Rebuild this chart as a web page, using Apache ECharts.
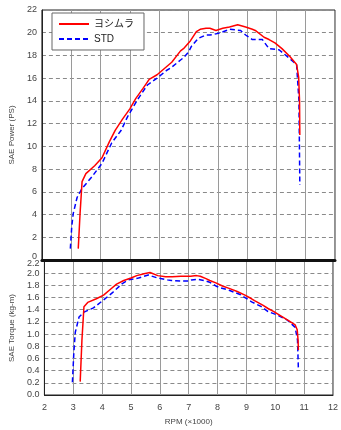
<!DOCTYPE html>
<html>
<head>
<meta charset="utf-8">
<script src="https://cdn.jsdelivr.net/npm/echarts@6/dist/echarts.min.js"></script>
<style>
  html, body { margin: 0; padding: 0; background: #fff; }
  #chart { width: 341px; height: 430px; }
</style>
</head>
<body>
<div id="chart"></div>
<script>
// Dyno run: engine speed (x1000 rpm), SAE power (PS) and SAE torque (kg-m)
const seriesNames = ['ヨシムラ', 'STD'];

const yoshiRpm    = [3.24, 3.30, 3.37, 3.50, 3.80, 4.05, 4.30, 4.50, 4.75, 5.00, 5.20, 5.45, 5.66, 5.93, 6.20, 6.43, 6.73, 6.83, 7.07, 7.27, 7.40, 7.60, 7.73, 7.94, 8.17, 8.40, 8.68, 8.95, 9.18, 9.28, 9.58, 9.75, 9.95, 10.19, 10.46, 10.69, 10.76, 10.79, 10.80];
const yoshiPower  = [1.0, 4.0, 6.9, 7.6, 8.3, 9.0, 10.4, 11.4, 12.4, 13.3, 14.2, 15.1, 15.9, 16.3, 16.9, 17.4, 18.4, 18.6, 19.3, 20.1, 20.3, 20.4, 20.4, 20.2, 20.4, 20.5, 20.7, 20.5, 20.3, 20.2, 19.6, 19.4, 19.1, 18.6, 17.9, 17.2, 16.1, 14.0, 11.0];
const yoshiTorque = [0.22, 0.90, 1.45, 1.52, 1.58, 1.64, 1.74, 1.82, 1.88, 1.92, 1.96, 1.99, 2.01, 1.96, 1.94, 1.94, 1.95, 1.95, 1.95, 1.96, 1.95, 1.91, 1.88, 1.84, 1.79, 1.75, 1.70, 1.64, 1.58, 1.55, 1.47, 1.42, 1.37, 1.30, 1.22, 1.15, 1.07, 0.90, 0.74];

const stdRpm    = [2.97, 3.02, 3.07, 3.20, 3.37, 3.70, 4.05, 4.38, 4.70, 4.92, 5.26, 5.60, 5.93, 6.26, 6.40, 6.73, 6.83, 7.00, 7.10, 7.33, 7.60, 7.73, 7.94, 8.10, 8.40, 8.78, 8.95, 9.18, 9.52, 9.75, 10.09, 10.42, 10.69, 10.77, 10.80];
const stdPower  = [1.0, 3.0, 4.1, 5.5, 6.3, 7.3, 8.5, 10.3, 11.4, 12.6, 14.1, 15.4, 16.0, 16.7, 16.9, 17.6, 17.8, 18.3, 18.8, 19.5, 19.8, 19.8, 19.9, 20.0, 20.3, 20.2, 19.8, 19.4, 19.4, 18.6, 18.5, 17.8, 17.2, 14.0, 6.6];
const stdTorque = [0.21, 0.70, 1.03, 1.28, 1.36, 1.43, 1.56, 1.69, 1.83, 1.89, 1.92, 1.97, 1.92, 1.89, 1.88, 1.87, 1.87, 1.87, 1.89, 1.90, 1.87, 1.85, 1.79, 1.76, 1.72, 1.65, 1.60, 1.53, 1.45, 1.37, 1.31, 1.23, 1.11, 0.90, 0.44];

const rpmTicks = { min: 2, max: 12, interval: 1 };
const powerTicks = { min: 0, max: 22, interval: 2 };
const torqueTicks = { min: 0, max: 2.2, interval: 0.2 };

const pairs = (xs, ys) => xs.map((x, i) => [x, ys[i]]);

const labelFont = { color: '#444', fontSize: 9, fontFamily: 'Liberation Sans, Arial, sans-serif' };
const nameFont = { color: '#444', fontSize: 8, fontFamily: 'Liberation Sans, Arial, sans-serif' };
const hLines = { show: true, lineStyle: { color: '#8a8a8a', type: [4, 3], width: 1 } };
const vLines = { show: true, lineStyle: { color: '#9a9a9a', type: 'solid', width: 1 } };

const redLine = { color: '#ff0000', width: 1.5, type: 'solid' };
const blueLine = { color: '#0000ff', width: 1.5, type: [5, 3] };

const chart = echarts.init(document.getElementById('chart'), null, { renderer: 'canvas' });
chart.setOption({
  backgroundColor: '#fff',
  animation: false,
  grid: [
    { left: 36, top: 10, width: 299, height: 250, show: true, borderColor: '#222', borderWidth: 1, backgroundColor: 'transparent' },
    { left: 36, top: 261, width: 299, height: 134, show: true, borderColor: '#222', borderWidth: 1, backgroundColor: 'transparent' }
  ],
  legend: {
    data: seriesNames,
    orient: 'vertical',
    left: 52,
    top: 13,
    padding: [6, 10, 6, 6],
    itemGap: 5,
    itemWidth: 30,
    itemHeight: 10,
    borderColor: '#666',
    borderWidth: 1,
    backgroundColor: '#fff',
    itemStyle: { color: 'transparent', borderWidth: 0 },
    textStyle: { color: '#222', fontSize: 10, fontFamily: 'Liberation Sans, Noto Sans CJK JP, sans-serif' }
  },
  xAxis: [
    {
      type: 'value', gridIndex: 0, ...rpmTicks,
      axisLabel: { show: false }, axisTick: { show: false },
      axisLine: { show: true, lineStyle: { color: '#111', width: 3 } },
      splitLine: vLines
    },
    {
      type: 'value', gridIndex: 1, ...rpmTicks,
      name: 'RPM (×1000)', nameLocation: 'middle', nameGap: 23,
      nameTextStyle: nameFont,
      axisLabel: { ...labelFont, margin: 8 }, axisTick: { show: false },
      axisLine: { show: true, lineStyle: { color: '#222', width: 1 } },
      splitLine: vLines
    }
  ],
  yAxis: [
    {
      type: 'value', gridIndex: 0, ...powerTicks,
      name: 'SAE Power (PS)', nameLocation: 'middle', nameGap: 25, nameRotate: 90,
      nameTextStyle: nameFont,
      axisLabel: {
        ...labelFont, margin: 5,
        formatter: v => (v === 0 ? '{lo|0}' : String(v)),
        rich: { lo: { ...labelFont, padding: [0, 0, 7, 0] } }
      },
      axisTick: { show: false },
      axisLine: { show: true, lineStyle: { color: '#222', width: 1 } },
      splitLine: hLines
    },
    {
      type: 'value', gridIndex: 1, ...torqueTicks,
      name: 'SAE Torque (kg-m)', nameLocation: 'middle', nameGap: 25, nameRotate: 90,
      nameTextStyle: nameFont,
      axisLabel: {
        ...labelFont, margin: 5,
        formatter: v => {
          const s = v.toFixed(1);
          return Math.abs(v - 2.2) < 1e-6 ? '{hi|' + s + '}' : s;
        },
        rich: { hi: { ...labelFont, padding: [5, 0, 0, 0] } }
      },
      axisTick: { show: false },
      axisLine: { show: true, lineStyle: { color: '#222', width: 1 } },
      splitLine: hLines
    }
  ],
  series: [
    {
      name: seriesNames[0], type: 'line', xAxisIndex: 0, yAxisIndex: 0,
      data: pairs(yoshiRpm, yoshiPower), symbol: 'none', lineStyle: redLine, itemStyle: { color: '#ff0000' }, z: 3
    },
    {
      name: seriesNames[1], type: 'line', xAxisIndex: 0, yAxisIndex: 0,
      data: pairs(stdRpm, stdPower), symbol: 'none', lineStyle: blueLine, itemStyle: { color: '#0000ff' }, z: 2
    },
    {
      name: seriesNames[0], type: 'line', xAxisIndex: 1, yAxisIndex: 1,
      data: pairs(yoshiRpm, yoshiTorque), symbol: 'none', lineStyle: redLine, itemStyle: { color: '#ff0000' }, z: 3
    },
    {
      name: seriesNames[1], type: 'line', xAxisIndex: 1, yAxisIndex: 1,
      data: pairs(stdRpm, stdTorque), symbol: 'none', lineStyle: blueLine, itemStyle: { color: '#0000ff' }, z: 2
    }
  ]
});
</script>
</body>
</html>
